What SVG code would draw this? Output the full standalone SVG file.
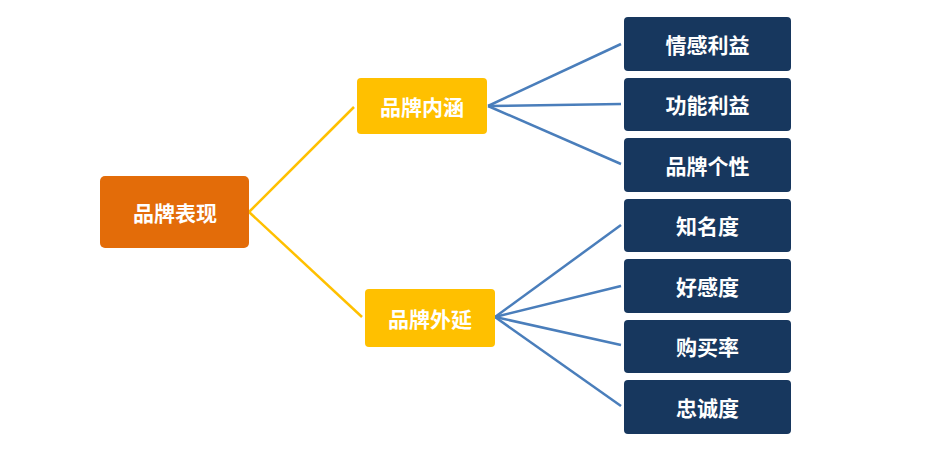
<svg xmlns="http://www.w3.org/2000/svg" width="945" height="452" viewBox="0 0 945 452">
  <style>
    .lbl { font-family: "Noto Sans CJK SC", "Noto Sans", sans-serif; font-size: 21px; font-weight: bold; fill: #FFFFFF; text-anchor: middle; dominant-baseline: central; }
    .y { stroke: #FFC000; stroke-width: 2.5; fill: none; }
    .b { stroke: #4A7EBB; stroke-width: 2.5; fill: none; }
    .leaf { fill: #17375E; }
  </style>
  <rect width="945" height="452" fill="#FFFFFF"/>
  <g id="connectors">
    <line class="y" x1="249" y1="212" x2="354" y2="107"/>
    <line class="y" x1="249" y1="212" x2="362" y2="317"/>
    <line class="b" x1="488" y1="106" x2="621" y2="44"/>
    <line class="b" x1="488" y1="106" x2="621" y2="104"/>
    <line class="b" x1="488" y1="106" x2="621" y2="164"/>
    <line class="b" x1="495" y1="317" x2="621" y2="225"/>
    <line class="b" x1="495" y1="317" x2="621" y2="286"/>
    <line class="b" x1="495" y1="317" x2="621" y2="345"/>
    <line class="b" x1="495" y1="317" x2="621" y2="406"/>
  </g>
  <g id="root">
    <rect x="100" y="176" width="149" height="72" rx="5" fill="#E36C09"/>
    <text class="lbl" x="175" y="211.5">品牌表现</text>
  </g>
  <g id="neihan">
    <rect x="357" y="78" width="130" height="56" rx="4" fill="#FFC000"/>
    <text class="lbl" x="422" y="105.5">品牌内涵</text>
  </g>
  <g id="waiyan">
    <rect x="365" y="289" width="130" height="58" rx="4" fill="#FFC000"/>
    <text class="lbl" x="430" y="317.5">品牌外延</text>
  </g>
  <g id="n1">
    <rect class="leaf" x="624" y="17" width="167" height="54" rx="4"/>
    <text class="lbl" x="707.5" y="43.5">情感利益</text>
  </g>
  <g id="n2">
    <rect class="leaf" x="624" y="78" width="167" height="53" rx="4"/>
    <text class="lbl" x="707.5" y="104">功能利益</text>
  </g>
  <g id="n3">
    <rect class="leaf" x="624" y="138" width="167" height="54" rx="4"/>
    <text class="lbl" x="707.5" y="164.5">品牌个性</text>
  </g>
  <g id="n4">
    <rect class="leaf" x="624" y="199" width="167" height="53" rx="4"/>
    <text class="lbl" x="707.5" y="225">知名度</text>
  </g>
  <g id="n5">
    <rect class="leaf" x="624" y="259" width="167" height="54" rx="4"/>
    <text class="lbl" x="707.5" y="285.5">好感度</text>
  </g>
  <g id="n6">
    <rect class="leaf" x="624" y="320" width="167" height="53" rx="4"/>
    <text class="lbl" x="707.5" y="346">购买率</text>
  </g>
  <g id="n7">
    <rect class="leaf" x="624" y="380" width="167" height="54" rx="4"/>
    <text class="lbl" x="707.5" y="406.5">忠诚度</text>
  </g>
</svg>
